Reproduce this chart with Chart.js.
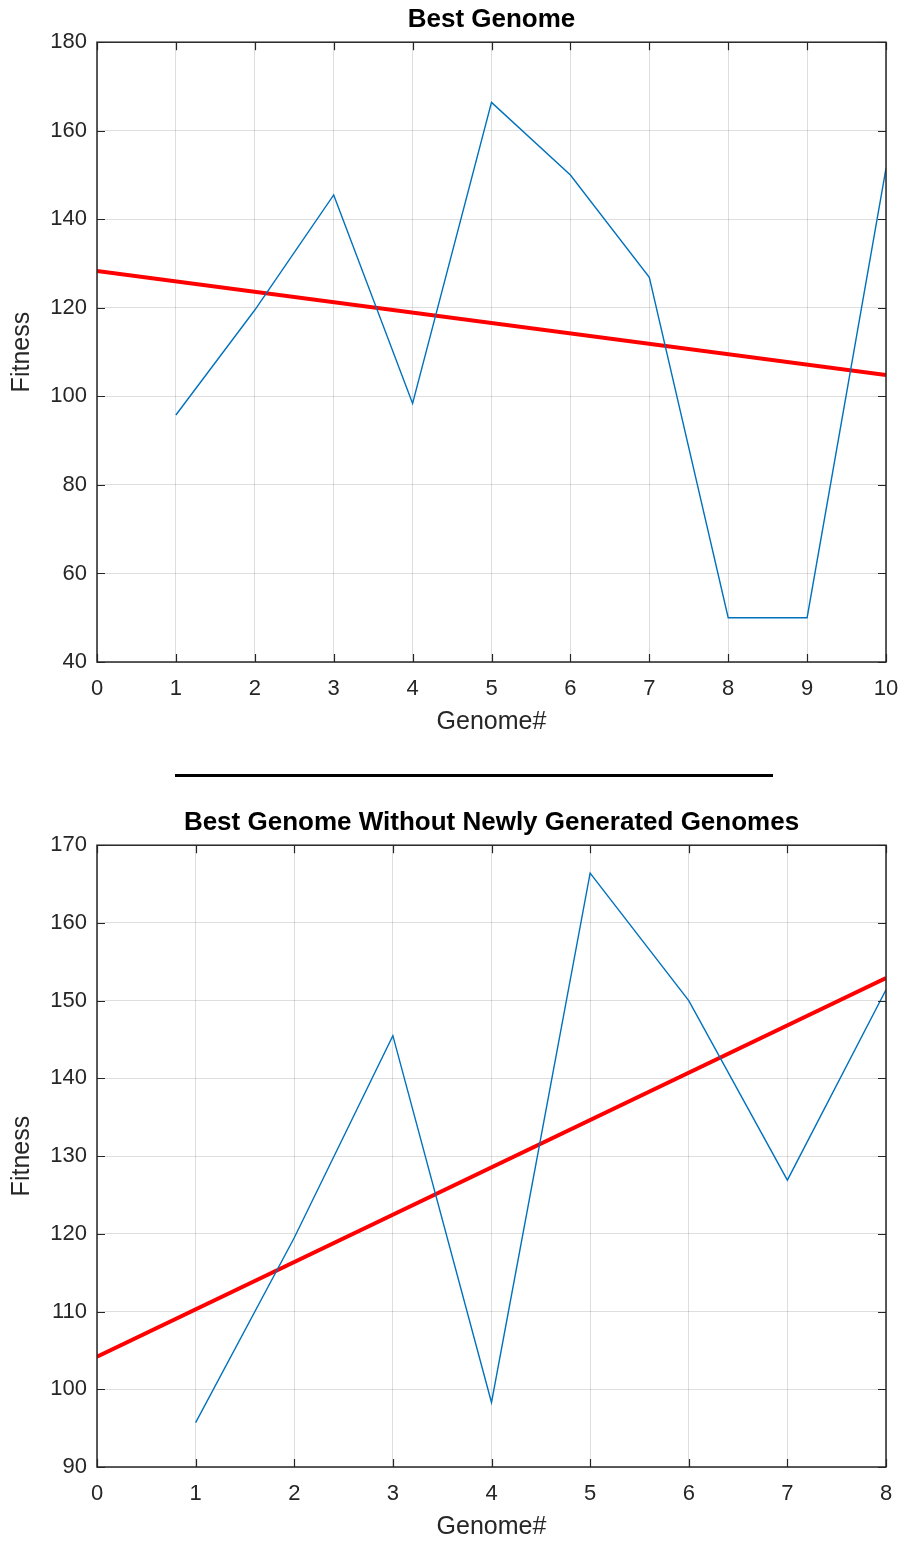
<!DOCTYPE html>
<html>
<head>
<meta charset="utf-8">
<script src="https://cdn.jsdelivr.net/npm/chart.js@4"></script>
<style>
  body { margin: 0; background: #fff; width: 904px; height: 1543px; position: relative; overflow: hidden; }
  .box { position: absolute; left: 0; width: 904px; }
  #sep { position: absolute; left: 175px; top: 774px; width: 598px; height: 3px; background: #000; }
</style>
</head>
<body>
<div class="box" style="top:0;height:745px"><canvas id="topChart"></canvas></div>
<div id="sep"></div>
<div class="box" style="top:803px;height:740px"><canvas id="bottomChart"></canvas></div>
<script>
// top plot: every genome
const genomesAll = [1, 2, 3, 4, 5, 6, 7, 8, 9, 10];
const fitnessAll = [95.8, 119.5, 145.5, 98.4, 166.4, 150.0, 126.9, 50, 50, 151.5];
const trendAllX = [0, 10];
const trendAllY = [128.3, 104.8];

// bottom plot: without newly generated genomes
const genomesOld = [1, 2, 3, 4, 5, 6, 7, 8];
const fitnessOld = [95.7, 119.5, 145.5, 98.3, 166.4, 150.0, 126.9, 151.4];
const trendOldX = [0, 8];
const trendOldY = [104.2, 152.9];

const axisColor = '#262626';
const fontFam = '"Liberation Sans", Arial, sans-serif';

const frame = {
  id: 'frame',
  afterDraw(chart) {
    const { ctx, chartArea: a, scales } = chart;
    ctx.save();
    ctx.strokeStyle = axisColor;
    ctx.lineWidth = 1.2;
    ctx.beginPath();
    scales.x.ticks.forEach(t => {
      const px = Math.round(scales.x.getPixelForValue(t.value)) + 0.5;
      ctx.moveTo(px, a.bottom); ctx.lineTo(px, a.bottom - 8);
      ctx.moveTo(px, a.top); ctx.lineTo(px, a.top + 8);
    });
    scales.y.ticks.forEach(t => {
      const py = Math.round(scales.y.getPixelForValue(t.value)) + 0.5;
      ctx.moveTo(a.left, py); ctx.lineTo(a.left + 8, py);
      ctx.moveTo(a.right, py); ctx.lineTo(a.right - 8, py);
    });
    ctx.stroke();
    ctx.lineWidth = 1.5;
    ctx.strokeRect(a.left, a.top, a.right - a.left, a.bottom - a.top);
    ctx.restore();
  }
};

function makeChart(id, title, xs, ys, tx, ty, xMax, yMin, yMax, yStep, xH, xTitlePad) {
  new Chart(document.getElementById(id), {
    type: 'line',
    data: {
      datasets: [{
        data: xs.map((x, i) => ({ x: x, y: ys[i] })),
        borderColor: '#0072BD',
        borderWidth: 1.4,
        pointRadius: 0,
        tension: 0
      }, {
        data: tx.map((x, i) => ({ x: x, y: ty[i] })),
        borderColor: '#FF0000',
        borderWidth: 4,
        pointRadius: 0
      }]
    },
    options: {
      responsive: true,
      maintainAspectRatio: false,
      animation: false,
      layout: { padding: { left: 0, right: 18, top: 0, bottom: 0 } },
      plugins: {
        legend: { display: false },
        tooltip: { enabled: false },
        title: {
          display: true,
          fullSize: false,
          text: title,
          color: '#000',
          font: { family: fontFam, size: 26, weight: 'bold', lineHeight: 1.2 },
          padding: { top: 4, bottom: 7 }
        }
      },
      scales: {
        x: {
          type: 'linear',
          min: 0, max: xMax,
          afterFit(s) { s.height = xH; s.paddingLeft = 0; s.paddingRight = 0; },
          ticks: { stepSize: 1, color: axisColor, padding: 14, font: { family: fontFam, size: 22 } },
          grid: { color: 'rgba(0,0,0,0.13)', drawTicks: false, tickLength: 0 },
          border: { display: false },
          title: {
            display: true, text: 'Genome#', color: axisColor,
            font: { family: fontFam, size: 25, lineHeight: 1.2 },
            padding: { top: xTitlePad, bottom: xTitlePad }
          }
        },
        y: {
          min: yMin, max: yMax,
          afterFit(s) { s.width = 97; },
          ticks: { stepSize: yStep, color: axisColor, padding: 10, font: { family: fontFam, size: 22 } },
          grid: { color: 'rgba(0,0,0,0.13)', drawTicks: false, tickLength: 0 },
          border: { display: false },
          title: {
            display: true, text: 'Fitness', color: axisColor,
            font: { family: fontFam, size: 25, lineHeight: 1.2 },
            padding: { top: 7, bottom: 7 }
          }
        }
      }
    },
    plugins: [frame]
  });
}

makeChart('topChart', 'Best Genome', genomesAll, fitnessAll, trendAllX, trendAllY, 10, 40, 180, 20, 83, 8);
makeChart('bottomChart', 'Best Genome Without Newly Generated Genomes', genomesOld, fitnessOld, trendOldX, trendOldY, 8, 90, 170, 10, 76, 1);
</script>
</body>
</html>
